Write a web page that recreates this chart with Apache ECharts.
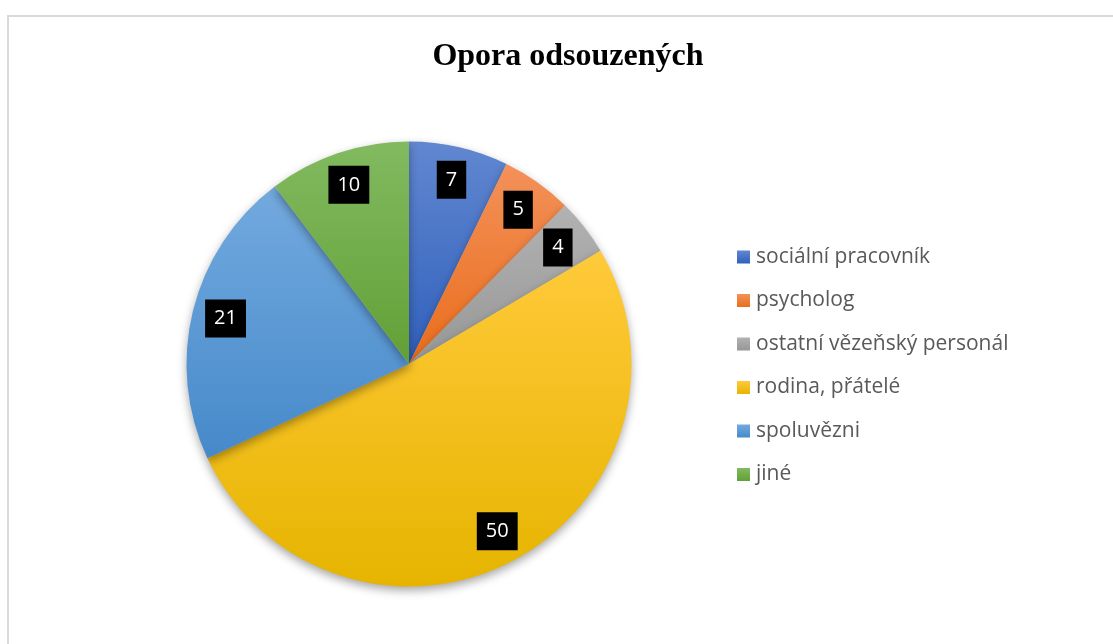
<!DOCTYPE html>
<html>
<head>
<meta charset="utf-8">
<script src="https://cdn.jsdelivr.net/npm/echarts@6/dist/echarts.min.js"></script>
<style>
html,body{margin:0;padding:0;background:#fff;}
#c{width:1113px;height:644px;}
</style>
</head>
<body>
<div id="c"></div>
<script>
const title = 'Opora odsouzených';
const categories = ['sociální pracovník', 'psycholog', 'ostatní vězeňský personál', 'rodina, přátelé', 'spoluvězni', 'jiné'];
const values = [7, 5, 4, 50, 21, 10];

const palette = [
  ['#6187d0', '#3060bc'],
  ['#f3915a', '#ea6d1b'],
  ['#b2b2b2', '#979797'],
  ['#ffca3a', '#e6b400'],
  ['#73aadf', '#4689ca'],
  ['#82ba60', '#62a036']
];
function grad(i) {
  return new echarts.graphic.LinearGradient(0, 0, 0, 1, [
    { offset: 0, color: palette[i][0] },
    { offset: 1, color: palette[i][1] }
  ]);
}

const chart = echarts.init(document.getElementById('c'), null, { renderer: 'canvas' });
const center = [409, 364];
const R = 222.5;

chart.setOption({
  animation: false,
  backgroundColor: '#ffffff',
  graphic: [{
    type: 'rect',
    shape: { x: 8, y: 16, width: 1110, height: 640 },
    style: { fill: 'none', stroke: '#d9d9d9', lineWidth: 2 },
    silent: true,
    z: -1
  }],
  title: {
    text: title,
    left: 563,
    textAlign: 'center',
    top: 36,
    textStyle: { fontFamily: 'Liberation Serif', fontWeight: 'bold', fontSize: 32, color: '#000' }
  },
  legend: {
    orient: 'vertical',
    left: 737,
    top: 246,
    padding: 0,
    icon: 'rect',
    itemWidth: 13,
    itemHeight: 13,
    itemGap: 21.5,
    selectedMode: false,
    textStyle: { fontFamily: 'Open Sans', fontSize: 21, color: '#595959', lineHeight: 22, padding: [0, 0, 0, 1] },
    data: categories.map((n, i) => ({ name: n, itemStyle: { color: grad(i) } }))
  },
  series: [
    {
      type: 'pie',
      center: center,
      radius: [0, R],
      startAngle: 90,
      clockwise: true,
      silent: true,
      emphasis: { disabled: true },
      label: { show: false },
      labelLine: { show: false },
      itemStyle: {
        borderWidth: 0,
        shadowBlur: 10,
        shadowOffsetY: 4,
        shadowColor: 'rgba(0,0,0,0.35)'
      },
      data: categories.map((n, i) => ({ name: n, value: values[i], itemStyle: { color: grad(i) } }))
    },
    {
      type: 'pie',
      center: center,
      radius: [0, 372],
      startAngle: 90,
      clockwise: true,
      silent: true,
      emphasis: { disabled: true },
      itemStyle: { color: 'rgba(0,0,0,0)', borderWidth: 0 },
      labelLine: { show: false },
      label: {
        show: true,
        position: 'inside',
        formatter: '{c}',
        backgroundColor: '#000',
        color: '#fff',
        fontFamily: 'Open Sans',
        fontSize: 20,
        lineHeight: 22,
        padding: [8, 9]
      },
      z: 5,
      data: categories.map((n, i) => ({ name: n, value: values[i] }))
    }
  ]
});
</script>
</body>
</html>
